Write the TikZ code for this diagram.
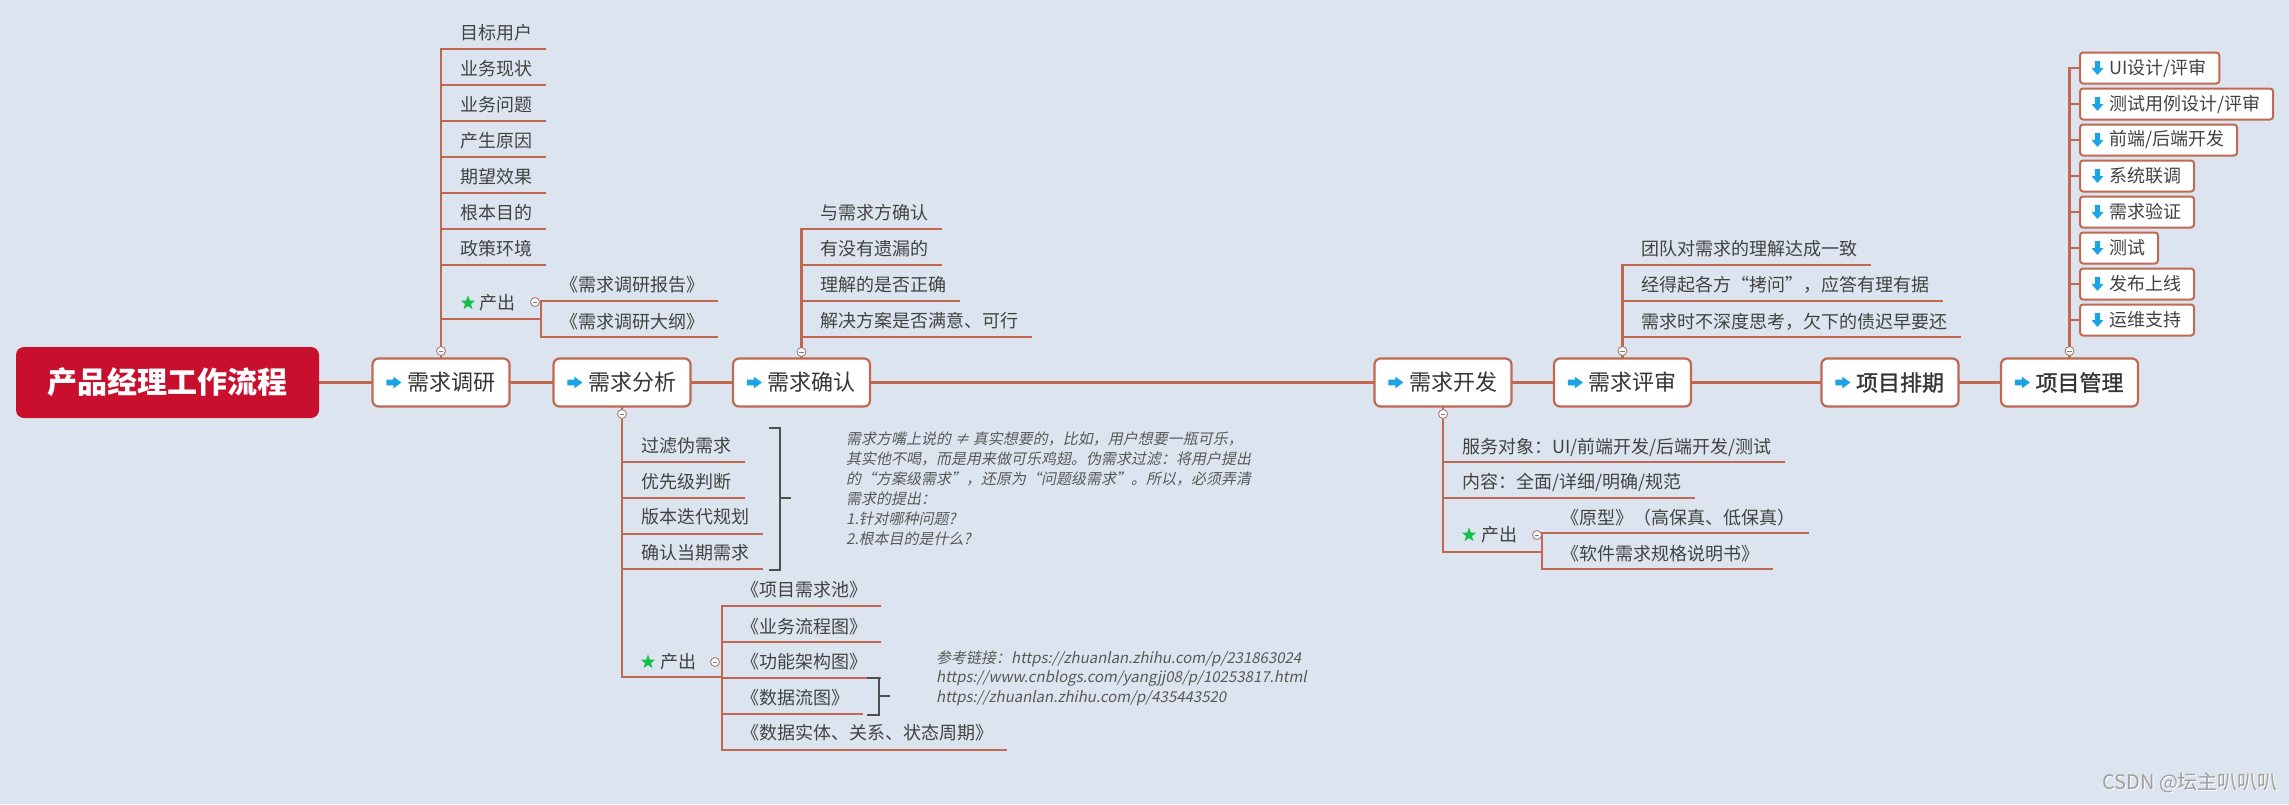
\documentclass[tikz,border=0pt]{standalone}
\usepackage{fontspec}
\newfontfamily\cjk{Noto Sans CJK SC}
\newfontfamily\cjkmed{Noto Sans CJK SC}[FakeBold=1.2]
\newfontfamily\cjkit{Noto Sans CJK SC}[FakeSlant=0.2]
\usetikzlibrary{shapes.geometric,calc}
\pgfdeclarelayer{back}
\pgfdeclarelayer{lines}
\pgfsetlayers{back,lines,main}
\definecolor{bgc}{RGB}{220,229,239}
\definecolor{brn}{RGB}{192,104,80}
\definecolor{rootred}{RGB}{200,16,46}
\definecolor{tx}{RGB}{66,66,66}
\definecolor{notec}{RGB}{88,88,88}
\definecolor{iconc}{RGB}{27,163,228}
\definecolor{stargreen}{RGB}{22,192,72}
\definecolor{brk}{RGB}{80,80,80}
\tikzset{
  conn/.style={draw=brn, line width=2.2pt, line cap=rect},
  mainbox/.style={draw=brn, line width=2.2pt, fill=white, rounded corners=6pt,
    minimum width=137pt, minimum height=48pt, inner sep=0pt,
    font=\cjk\fontsize{22}{22}\selectfont, text=tx!80!black},
  mainbold/.style={mainbox, font=\cjkmed\fontsize{22}{22}\selectfont},
  rootbox/.style={fill=rootred, rounded corners=8pt, minimum width=303pt,
    minimum height=71pt, inner sep=0pt,
    font=\cjk\bfseries\fontsize{30}{30}\selectfont, text=white},
  leaf/.style={anchor=west, inner sep=0pt, font=\cjk\fontsize{18}{18}\selectfont, text=tx},
  stepbox/.style={draw=brn, line width=2pt, fill=white, rounded corners=3pt,
    anchor=west, minimum height=31pt, inner xsep=13pt, inner ysep=0pt,
    font=\cjk\fontsize{18}{18}\selectfont, text=tx},
  coll/.style={circle, draw=brn!60!gray, line width=0.8pt, fill=white!85!bgc,
    minimum size=9pt, inner sep=0pt,
    path picture={\draw[gray, line width=0.8pt]
      ([xshift=-2.3pt]path picture bounding box.center) --
      ([xshift=2.3pt]path picture bounding box.center);}},
  gstar/.style={star, star points=5, star point ratio=2.4, fill=stargreen,
    draw=none, minimum size=15pt, inner sep=0pt},
  notetext/.style={anchor=north west, align=left, inner sep=0pt, text=notec},
  brack/.style={draw=brk, line width=2pt},
  rarrow/.pic={\fill[iconc] (0,-2.8) -- (7,-2.8) -- (7,-5.8) -- (15,0) --
    (7,5.8) -- (7,2.8) -- (0,2.8) -- cycle;},
  darrow/.pic={\fill[iconc] (-2.7,-7) -- (2.7,-7) -- (2.7,0) -- (6,0) --
    (0,7) -- (-6,0) -- (-2.7,0) -- cycle;},
}
% #1 name, #2 branch x, #3 text centre y, #4 underline y, #5 text
\newcommand\leafitem[5]{%
  \node[leaf] (#1) at ({#2+19},#3) {#5};
  \coordinate (#1u) at (#2,#4);
  \begin{pgfonlayer}{lines}
    \draw[conn] (#1u) -- (#1.east |- #1u) -- ++(12,0);
  \end{pgfonlayer}}
% #1 name, #2 centre y, #3 text
\newcommand\stepitem[3]{%
  \node[stepbox] (#1) at (2079,#2) {\hspace*{16pt}#3};
  \pic at ($(#1.west)+(18.5,0)$) {darrow};
  \begin{pgfonlayer}{lines}
    \draw[conn] (#1.west) -- (#1.west -| glT);
  \end{pgfonlayer}}
\begin{document}
\begin{tikzpicture}[x=1pt,y=-1pt]
\begin{pgfonlayer}{back}
  \fill[bgc] (0,0) rectangle (2289,804);
\end{pgfonlayer}
\useasboundingbox (0,0) rectangle (2289,804);

% ---------- main row ----------
\node[rootbox] (root) at (167.5,382.5) {产品经理工作流程};
\node[mainbox] (dy) at (441,382.5) {\hspace*{20pt}需求调研};
\node[mainbox] (fx) at (622,382.5) {\hspace*{20pt}需求分析};
\node[mainbox] (qr) at (801.5,382.5) {\hspace*{20pt}需求确认};
\node[mainbox] (kf) at (1443,382.5) {\hspace*{20pt}需求开发};
\node[mainbox] (ps) at (1622.5,382.5) {\hspace*{20pt}需求评审};
\node[mainbold] (pq) at (1890,382.5) {\hspace*{20pt}项目排期};
\node[mainbold] (gl) at (2069.5,382.5) {\hspace*{20pt}项目管理};
\foreach \n in {dy,fx,qr,kf,ps,pq,gl} {\pic at ($(\n.west)+(15,0)$) {rarrow};}
\begin{pgfonlayer}{lines}
  \draw[conn] (root) -- (dy);
  \draw[conn] (dy) -- (fx);
  \draw[conn] (fx) -- (qr);
  \draw[conn] (qr) -- (kf);
  \draw[conn] (kf) -- (ps);
  \draw[conn] (ps) -- (pq);
  \draw[conn] (pq) -- (gl);
\end{pgfonlayer}

% ---------- 需求调研 ----------
\node[coll] (cdy) at (441,351) {};
\coordinate (dyT) at (441,49);
\begin{pgfonlayer}{lines}
  \draw[conn] (dy.north) -- (cdy.center) -- (dyT);
\end{pgfonlayer}
\leafitem{a1}{441}{33}{49}{目标用户}
\leafitem{a2}{441}{69}{85}{业务现状}
\leafitem{a3}{441}{105}{121}{业务问题}
\leafitem{a4}{441}{141}{157}{产生原因}
\leafitem{a5}{441}{177}{193}{期望效果}
\leafitem{a6}{441}{213}{229}{根本目的}
\leafitem{a7}{441}{249}{265}{政策环境}
\node[gstar] (sa) at (468,303) {};
\node[leaf] (aout) at (479,303) {产出};
\coordinate (aoutL) at (441,319);
\coordinate (aoutR) at (541,319);
\leafitem{a8}{541}{285}{301}{《需求调研报告》}
\leafitem{a9}{541}{322}{337}{《需求调研大纲》}
\begin{pgfonlayer}{lines}
  \draw[conn] (aoutL) -- (aoutR);
  \draw[conn] (a8u) -- (a9u);
\end{pgfonlayer}
\node[coll] (caout) at (535,302) {};

% ---------- 需求分析 ----------
\node[coll] (cfx) at (622,414) {};
\coordinate (fxB) at (622,677);
\begin{pgfonlayer}{lines}
  \draw[conn] (fx.south) -- (cfx.center) -- (fxB);
\end{pgfonlayer}
\leafitem{b1}{622}{446}{462}{过滤伪需求}
\leafitem{b2}{622}{482}{498}{优先级判断}
\leafitem{b3}{622}{517}{534}{版本迭代规划}
\leafitem{b4}{622}{553}{569}{确认当期需求}
\node[gstar] (sb) at (648,662) {};
\node[leaf] (bout) at (660,662) {产出};
\coordinate (boutR) at (722,677);
\leafitem{b5}{722}{590}{606}{《项目需求池》}
\leafitem{b6}{722}{627}{642}{《业务流程图》}
\leafitem{b7}{722}{662}{678}{《功能架构图》}
\leafitem{b8}{722}{698}{714}{《数据流图》}
\leafitem{b9}{722}{733}{750}{《数据实体、关系、状态周期》}
\begin{pgfonlayer}{lines}
  \draw[conn] (fxB) -- (boutR);
  \draw[conn] (b5u) -- (b9u);
\end{pgfonlayer}
\node[coll] (cbout) at (715,662) {};
% bracket and note
\draw[brack] (769,428) -- (780,428) -- (780,570) -- (769,570);
\draw[brack] (780,498) -- (791,498);
\node[notetext, font=\cjkit\fontsize{15}{20}\selectfont] (note1) at (846,431.5)
  {需求方嘴上说的 ≠ 真实想要的，比如，用户想要一瓶可乐，\\
   其实他不喝，而是用来做可乐鸡翅。伪需求过滤：将用户提出\\
   的“方案级需求”，还原为“问题级需求”。所以，必须弄清\\
   需求的提出：\\
   1.针对哪种问题?\\
   2.根本目的是什么?};
\draw[brack] (867,678) -- (879,678) -- (879,715) -- (867,715);
\draw[brack] (879,696) -- (890,696);
\node[notetext, font=\cjkit\fontsize{15}{19.5}\selectfont] (note2) at (936,650.5)
  {参考链接：https://zhuanlan.zhihu.com/p/231863024\\
   https://www.cnblogs.com/yangjj08/p/10253817.html\\
   https://zhuanlan.zhihu.com/p/435443520};

% ---------- 需求确认 ----------
\node[coll] (cqr) at (801.5,352) {};
\coordinate (qrT) at (801.5,229);
\begin{pgfonlayer}{lines}
  \draw[conn] (qr.north) -- (cqr.center) -- (qrT);
\end{pgfonlayer}
\leafitem{c1}{801.5}{213}{229}{与需求方确认}
\leafitem{c2}{801.5}{249}{265}{有没有遗漏的}
\leafitem{c3}{801.5}{285}{301}{理解的是否正确}
\leafitem{c4}{801.5}{321}{337}{解决方案是否满意、可行}

% ---------- 需求开发 ----------
\node[coll] (ckf) at (1443,414) {};
\coordinate (kfB) at (1443,552);
\begin{pgfonlayer}{lines}
  \draw[conn] (kf.south) -- (ckf.center) -- (kfB);
\end{pgfonlayer}
\leafitem{d1}{1443}{447}{462}{服务对象：UI/前端开发/后端开发/测试}
\leafitem{d2}{1443}{482}{498}{内容：全面/详细/明确/规范}
\node[gstar] (sd) at (1469,535) {};
\node[leaf] (dout) at (1481,535) {产出};
\coordinate (doutR) at (1542,552);
\leafitem{d3}{1542}{518}{533}{《原型》（高保真、低保真）}
\leafitem{d4}{1542}{554}{569}{《软件需求规格说明书》}
\begin{pgfonlayer}{lines}
  \draw[conn] (kfB) -- (doutR);
  \draw[conn] (d3u) -- (d4u);
\end{pgfonlayer}
\node[coll] (cdout) at (1537,535) {};

% ---------- 需求评审 ----------
\node[coll] (cps) at (1622.5,351) {};
\coordinate (psT) at (1622.5,265);
\begin{pgfonlayer}{lines}
  \draw[conn] (ps.north) -- (cps.center) -- (psT);
\end{pgfonlayer}
\leafitem{e1}{1622.5}{249}{265}{团队对需求的理解达成一致}
\leafitem{e2}{1622.5}{285}{301}{经得起各方“拷问”，应答有理有据}
\leafitem{e3}{1622.5}{322}{337}{需求时不深度思考，欠下的债迟早要还}

% ---------- 项目管理 ----------
\node[coll] (cgl) at (2069.5,351) {};
\coordinate (glT) at (2069.5,68);
\begin{pgfonlayer}{lines}
  \draw[conn] (gl.north) -- (cgl.center) -- (glT);
\end{pgfonlayer}
\stepitem{g1}{68}{UI设计/评审}
\stepitem{g2}{104}{测试用例设计/评审}
\stepitem{g3}{140}{前端/后端开发}
\stepitem{g4}{176}{系统联调}
\stepitem{g5}{212}{需求验证}
\stepitem{g6}{248}{测试}
\stepitem{g7}{284}{发布上线}
\stepitem{g8}{320}{运维支持}

% ---------- watermark ----------
\node[anchor=west, inner sep=0pt, font=\cjk\fontsize{20}{20}\selectfont, text=white]
  (wm2) at (2103,784) {CSDN @坛主叭叭叭};
\node[anchor=west, inner sep=0pt, font=\cjk\fontsize{20}{20}\selectfont, text=gray!75]
  (wm) at (2102,783) {CSDN @坛主叭叭叭};
\end{tikzpicture}
\end{document}
